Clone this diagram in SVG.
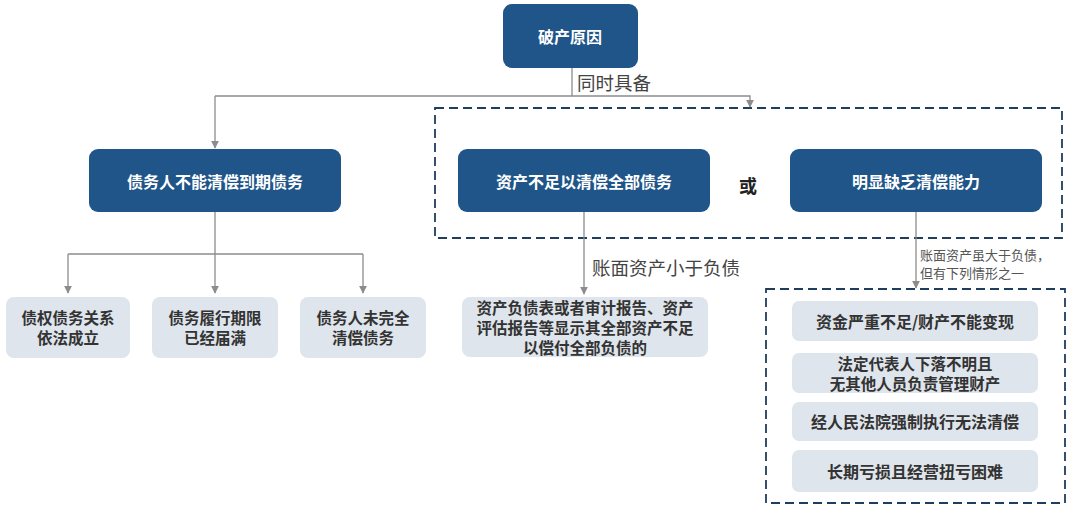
<svg xmlns="http://www.w3.org/2000/svg" width="1080" height="528" viewBox="0 0 1080 528">
<style>
text{font-family:"Noto Sans CJK SC","Liberation Sans",sans-serif}
.main rect{fill:#1f5588}
.main text{fill:#fff;font-size:16px;font-weight:bold;text-anchor:middle;dominant-baseline:central}
.sub rect{fill:#dfe5ec}
.sub text{fill:#333;font-size:16px;font-weight:bold;text-anchor:middle;dominant-baseline:central}
.sub text.t{font-size:15.5px}
.conn path{fill:none;stroke:#8c8c8c;stroke-width:1.3}
.lbl{fill:#444;font-size:18.5px;dominant-baseline:central}
.lbls{fill:#555;font-size:13px;dominant-baseline:central}
.dash{fill:none;stroke:#1f3d5c;stroke-width:1.8;stroke-dasharray:9 5}
</style>
<defs>
<marker id="arr" viewBox="0 0 10 10" refX="9" refY="5" markerWidth="8" markerHeight="8" orient="auto" markerUnits="userSpaceOnUse">
<path d="M0,0 L10,5 L0,10 z" fill="#8c8c8c"/>
</marker>
</defs>
<rect width="1080" height="528" fill="#fff"/>
<rect class="dash" x="435" y="108" width="627" height="130"/>
<rect class="dash" x="766" y="289" width="299" height="214"/>
<g class="conn">
<path d="M572,68 V96"/>
<path d="M215,96 H750 V107" marker-end="url(#arr)"/>
<path d="M215,96 V148" marker-end="url(#arr)"/>
<path d="M215,212 V254"/>
<path d="M68,254 H363"/>
<path d="M68,254 V293" marker-end="url(#arr)"/>
<path d="M215,254 V293" marker-end="url(#arr)"/>
<path d="M363,254 V293" marker-end="url(#arr)"/>
<path d="M584,212 V294" marker-end="url(#arr)"/>
<path d="M916,212 V288" marker-end="url(#arr)"/>
</g>
<text class="lbl" x="577" y="82">同时具备</text>
<text class="lbl" x="592" y="267">账面资产小于负债</text>
<text class="lbls" x="920" y="254">账面资产虽大于负债，</text>
<text class="lbls" x="920" y="272">但有下列情形之一</text>
<text x="748" y="185" font-size="18" font-weight="bold" fill="#222" text-anchor="middle" dominant-baseline="central">或</text>
<g id="n-root" class="main"><rect x="503" y="4" width="135" height="64" rx="9"/><text x="570" y="36">破产原因</text></g>
<g id="n-a" class="main"><rect x="89" y="149" width="252" height="63" rx="9"/><text x="215" y="181">债务人不能清偿到期债务</text></g>
<g id="n-b" class="main"><rect x="458" y="149" width="252" height="63" rx="9"/><text x="584" y="181">资产不足以清偿全部债务</text></g>
<g id="n-c" class="main"><rect x="790" y="149" width="252" height="63" rx="9"/><text x="916" y="181">明显缺乏清偿能力</text></g>
<g id="n-a1" class="sub"><rect x="6" y="297" width="124" height="61" rx="8"/><text class="t" x="68" y="317">债权债务关系</text><text class="t" x="68" y="337">依法成立</text></g>
<g id="n-a2" class="sub"><rect x="152" y="297" width="126" height="61" rx="8"/><text class="t" x="215" y="317">债务履行期限</text><text class="t" x="215" y="337">已经届满</text></g>
<g id="n-a3" class="sub"><rect x="300" y="297" width="126" height="61" rx="8"/><text class="t" x="363" y="317">债务人未完全</text><text class="t" x="363" y="337">清偿债务</text></g>
<g id="n-b1" class="sub"><rect x="462" y="297" width="246" height="60" rx="8"/><text class="t" x="585" y="307">资产负债表或者审计报告、资产</text><text class="t" x="585" y="327">评估报告等显示其全部资产不足</text><text class="t" x="585" y="347">以偿付全部负债的</text></g>
<g id="n-c1" class="sub"><rect x="792" y="301" width="246" height="40" rx="7"/><text x="915" y="321">资金严重不足/财产不能变现</text></g>
<g id="n-c2" class="sub"><rect x="792" y="353" width="246" height="40" rx="7"/><text class="t" x="915" y="363">法定代表人下落不明且</text><text class="t" x="915" y="383">无其他人员负责管理财产</text></g>
<g id="n-c3" class="sub"><rect x="792" y="402" width="246" height="39" rx="7"/><text x="915" y="421">经人民法院强制执行无法清偿</text></g>
<g id="n-c4" class="sub"><rect x="792" y="450" width="246" height="42" rx="7"/><text x="915" y="471">长期亏损且经营扭亏困难</text></g>
</svg>
